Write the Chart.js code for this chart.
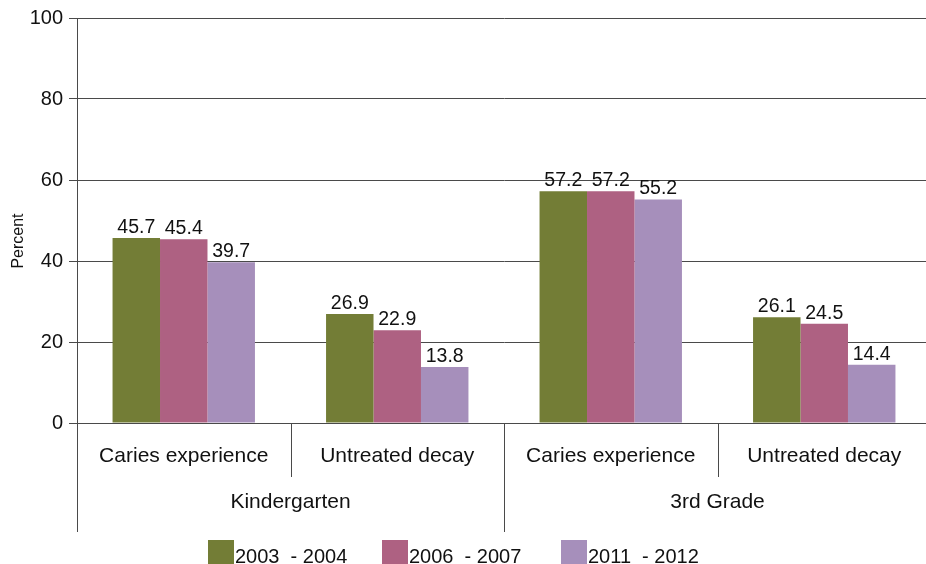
<!DOCTYPE html>
<html>
<head>
<meta charset="utf-8">
<script src="https://cdn.jsdelivr.net/npm/chart.js@4/dist/chart.umd.min.js"></script>
<style>
  html, body { margin: 0; padding: 0; background: #fff; overflow: hidden; }
  #wrap { width: 932px; height: 564px; }
</style>
</head>
<body>
<div id="wrap"><canvas id="barChart" width="932" height="564"></canvas></div>
<script>
const categories = ['Caries experience', 'Untreated decay', 'Caries experience', 'Untreated decay'];
const groups = ['Kindergarten', '3rd Grade'];
const seriesNames = ['2003  - 2004', '2006  - 2007', '2011  - 2012'];
const values2003 = [45.7, 26.9, 57.2, 26.1];
const values2006 = [45.4, 22.9, 57.2, 24.5];
const values2011 = [39.7, 13.8, 55.2, 14.4];
const yTicks = [0, 20, 40, 60, 80, 100];

const colors = ['#737d36', '#ae6182', '#a68fbb'];
const FONT = '"Liberation Sans", Arial, Helvetica, sans-serif';
const lineColor = '#4a4a4a';

// labels, separators, group names and legend drawn on top
const extras = {
	id: 'extras',
	afterDatasetsDraw(chart) {
		const ctx = chart.ctx;
		const x = chart.scales.x;
		const area = chart.chartArea;
		ctx.save();
		ctx.font = '19.5px ' + FONT;
		ctx.fillStyle = '#111';
		ctx.textAlign = 'center';
		ctx.textBaseline = 'alphabetic';
		chart.data.datasets.forEach((ds, i) => {
			chart.getDatasetMeta(i).data.forEach((bar, j) => {
				ctx.fillText(ds.data[j].toFixed(1), bar.x, bar.y - 5);
			});
		});

		// zero line over the bars
		ctx.strokeStyle = lineColor;
		ctx.lineWidth = 1;
		ctx.beginPath();
		ctx.moveTo(area.left, Math.round(area.bottom) + 0.5);
		ctx.lineTo(area.right, Math.round(area.bottom) + 0.5);
		ctx.stroke();

		const half = (x.getPixelForValue(1) - x.getPixelForValue(0)) / 2;
		for (let i = 0; i <= categories.length; i++) {
			const px = Math.round(x.getPixelForValue(i) - half) + 0.5;
			const bottom = i % 2 === 0 ? 532 : 477;
			ctx.beginPath();
			ctx.moveTo(px, area.bottom);
			ctx.lineTo(px, bottom);
			ctx.stroke();
		}

		ctx.font = '21px ' + FONT;
		ctx.textBaseline = 'middle';
		categories.forEach((c, i) => {
			ctx.fillText(c, x.getPixelForValue(i), 456);
		});
		groups.forEach((g, i) => {
			const cx = (x.getPixelForValue(i * 2) + x.getPixelForValue(i * 2 + 1)) / 2;
			ctx.fillText(g, cx, 502);
		});

		// y title
		ctx.save();
		ctx.translate(19, 241);
		ctx.rotate(-Math.PI / 2);
		ctx.font = '16px ' + FONT;
		ctx.fillText('Percent', 0, 0);
		ctx.restore();

		// legend
		const boxX = [208, 382, 561];
		ctx.font = '20px ' + FONT;
		ctx.textAlign = 'left';
		ctx.textBaseline = 'alphabetic';
		chart.data.datasets.forEach((ds, i) => {
			ctx.fillStyle = ds.backgroundColor;
			ctx.fillRect(boxX[i], 540, 26, 26);
			ctx.fillStyle = '#111';
			ctx.fillText(ds.label, boxX[i] + 27, 563);
		});
		ctx.restore();
	}
};

new Chart(document.getElementById('barChart'), {
	type: 'bar',
	data: {
		labels: categories,
		datasets: [
			{ label: seriesNames[0], data: values2003, backgroundColor: colors[0] },
			{ label: seriesNames[1], data: values2006, backgroundColor: colors[1] },
			{ label: seriesNames[2], data: values2011, backgroundColor: colors[2] },
		].map((d) => ({ ...d, borderWidth: 0, categoryPercentage: 0.667, barPercentage: 1.0 })),
	},
	options: {
		responsive: false,
		animation: false,
		devicePixelRatio: 1,
		layout: { padding: { top: 18, right: 1, bottom: 141, left: 0 } },
		plugins: {
			legend: { display: false },
			tooltip: { enabled: false },
		},
		scales: {
			x: {
				display: false,
				grid: { display: false },
			},
			y: {
				min: 0,
				max: 100,
				afterFit: (s) => { s.width = 77; },
				afterBuildTicks: (s) => { s.ticks = yTicks.map((v) => ({ value: v })); },
				border: { color: lineColor, width: 1 },
				grid: { color: lineColor, lineWidth: 1, tickLength: 8, drawTicks: true },
				ticks: {
					color: '#111',
					font: { family: FONT, size: 20 },
					padding: 6,
				},
			},
		},
	},
	plugins: [extras],
});
</script>
</body>
</html>
